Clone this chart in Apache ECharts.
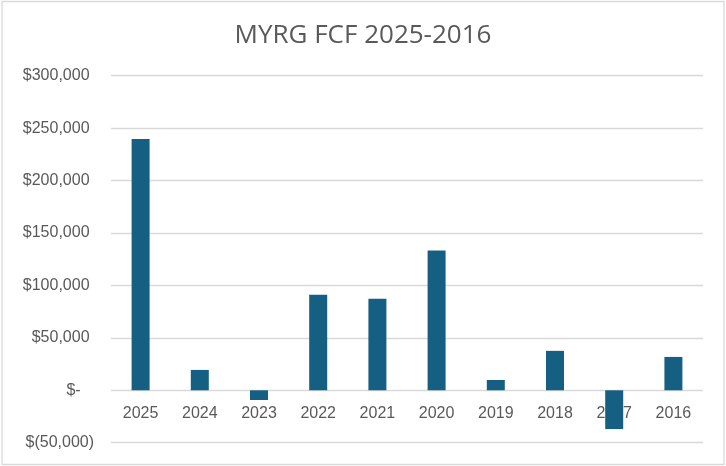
<!DOCTYPE html>
<html>
<head>
<meta charset="utf-8">
<script src="https://cdn.jsdelivr.net/npm/echarts@6/dist/echarts.min.js"></script>
<style>
html, body { margin: 0; padding: 0; background: #fff; }
#main { width: 726px; height: 466px; }
</style>
</head>
<body>
<div id="main"></div>
<script>
// years and free cash flow values
var years = ['2025', '2024', '2023', '2022', '2021', '2020', '2019', '2018', '2017', '2016'];
var fcf = [239700, 19400, -9300, 91100, 87300, 133200, 9800, 37600, -37000, 31800];

function money(v) {
    if (v == 0) {
        return '$-   ';
    }
    var s = Math.abs(v).toLocaleString('en-US');
    if (v < 0) {
        return '$(' + s + ')';
    }
    return '$' + s + ' ';
}

var myChart = echarts.init(document.getElementById('main'));
var option = {
    animation: false,
    backgroundColor: '#fff',
    title: {
        text: 'MYRG FCF 2025-2016',
        left: 'center',
        top: 18,
        textStyle: {
            fontFamily: 'Open Sans',
            fontSize: 26,
            fontWeight: 'normal',
            color: '#595959'
        }
    },
    graphic: [{
        type: 'rect',
        shape: { x: 2, y: 1.5, width: 722, height: 463 },
        style: { fill: 'none', stroke: '#d9d9d9', lineWidth: 1.3 },
        silent: true
    }],
    grid: {
        left: 111,
        right: 23,
        top: 75.7,
        bottom: 23.3
    },
    xAxis: {
        type: 'category',
        data: years,
        // labels sit just under the zero line, like the original
        offset: -53.4,
        axisLine: { show: false, onZero: false },
        axisTick: { show: false },
        axisLabel: {
            margin: 16,
            color: '#595959',
            fontFamily: 'Liberation Sans',
            fontSize: 16
        }
    },
    yAxis: {
        type: 'value',
        min: -50000,
        max: 300000,
        interval: 50000,
        axisLine: { show: false },
        axisTick: { show: false },
        splitLine: { lineStyle: { color: '#d9d9d9', width: 1.3 } },
        axisLabel: {
            margin: 17,
            color: '#595959',
            fontFamily: 'Liberation Sans',
            fontSize: 16,
            formatter: money
        }
    },
    series: [{
        type: 'bar',
        data: fcf,
        barWidth: 18,
        itemStyle: { color: '#156082' }
    }]
};
myChart.setOption(option);
</script>
</body>
</html>
